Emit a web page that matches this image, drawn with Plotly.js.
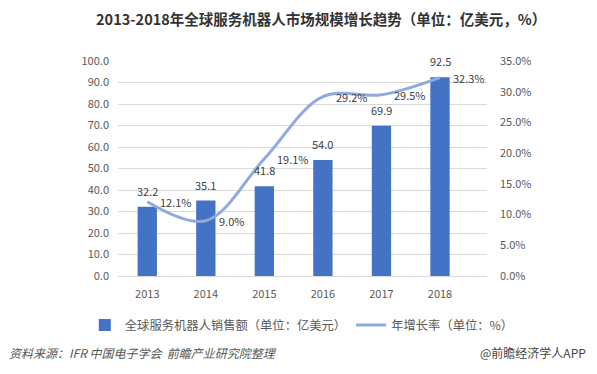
<!DOCTYPE html>
<html><head><meta charset="utf-8">
<script src="https://cdn.plot.ly/plotly-3.0.1.min.js"></script>
<style>html,body{margin:0;padding:0;background:#fff;}#chart{width:597px;height:374px;}</style>
</head><body><div id="chart"></div>
<script>
const years = ['2013','2014','2015','2016','2017','2018'];
const sales = [32.2, 35.1, 41.8, 54.0, 69.9, 92.5];
const growth = [12.1, 9.0, 19.1, 29.2, 29.5, 32.3];
const leftTicks = [0,10,20,30,40,50,60,70,80,90,100];
const rightTicks = [0,5,10,15,20,25,30,35];
const barName = '全球服务机器人销售额（单位：亿美元）';
const lineName = '年增长率（单位：%）';
const titleText = '2013-2018年全球服务机器人市场规模增长趋势（单位：亿美元，%）';
const sourceText = '资料来源：IFR 中国电子学会  前瞻产业研究院整理';
const brandText = '@前瞻经济学人APP';

const F = '"Noto Sans CJK SC", "Noto Sans", sans-serif';
const grey = '#595959';
const labelColor = '#404040';

const traces = [
  {type:'bar', x:years, y:sales, name:barName,
   marker:{color:'#4472C4'}, hoverinfo:'skip'},
  {type:'scatter', mode:'lines', x:years, y:growth, yaxis:'y2', name:lineName,
   line:{color:'#8FAADC', width:3, shape:'spline', smoothing:1},
   hoverinfo:'skip'}
];

// category positions (index of each year on the category axis)
const barLabels = years.map((yr,i)=>({
  x:i, y:sales[i], xref:'x', yref:'y', text:sales[i].toFixed(1),
  showarrow:false, xanchor:'center', yanchor:'bottom', yshift:6,
  font:{family:F,size:11,color:labelColor}
}));
const lineLabels = years.map((yr,i)=>({
  x:i, y:growth[i], xref:'x', yref:'y2', text:growth[i].toFixed(1)+'%',
  showarrow:false, xanchor:'left', yanchor:'middle', xshift:11,
  font:{family:F,size:11,color:labelColor}
}));

const layout = {
  width:597, height:374,
  margin:{l:118, r:110, t:61, b:98},
  paper_bgcolor:'#fff', plot_bgcolor:'#fff',
  font:{family:F, size:11, color:grey},
  showlegend:true,
  bargap:0.67,
  title:{text:'<b>'+titleText+'</b>', font:{family:F,size:14.5,color:'#333'}, x:0.538, xanchor:'center', y:0.947, yanchor:'middle'},
  xaxis:{type:'category', showgrid:false, zeroline:false, showline:true, linecolor:'#d9d9d9', linewidth:1,
         ticks:'', tickfont:{family:F,size:11,color:grey}, ticklabelstandoff:8},
  yaxis:{range:[0,100], tickvals:leftTicks, ticktext:leftTicks.map(v=>v.toFixed(1)),
         showgrid:true, gridcolor:'#d9d9d9', gridwidth:1, zeroline:false, showline:false,
         ticks:'', tickfont:{family:F,size:11,color:grey}, ticklabelstandoff:8},
  yaxis2:{range:[0,35], overlaying:'y', side:'right', tickvals:rightTicks, ticktext:rightTicks.map(v=>v.toFixed(1)+'%'),
          showgrid:false, zeroline:false, showline:false, ticks:'',
          tickfont:{family:F,size:11,color:grey}, ticklabelstandoff:12},
  legend:{orientation:'h', x:-0.09, xanchor:'left', y:-0.228, yanchor:'middle',
          font:{family:F,size:12.3,color:grey}, traceorder:'normal'},
  annotations:[
    ...barLabels, ...lineLabels,
    {text:'<i>'+sourceText+'</i>', xref:'paper', yref:'paper', x:-0.301, y:-0.358, xanchor:'left', yanchor:'middle',
     showarrow:false, font:{family:F,size:12,color:'#555'}},
    {text:brandText, xref:'paper', yref:'paper', x:1.274, y:-0.358, xanchor:'right', yanchor:'middle',
     showarrow:false, font:{family:F,size:12,color:'#444'}}
  ]
};

Plotly.newPlot('chart', traces, layout, {displayModeBar:false, staticPlot:true});
</script>
</body></html>
